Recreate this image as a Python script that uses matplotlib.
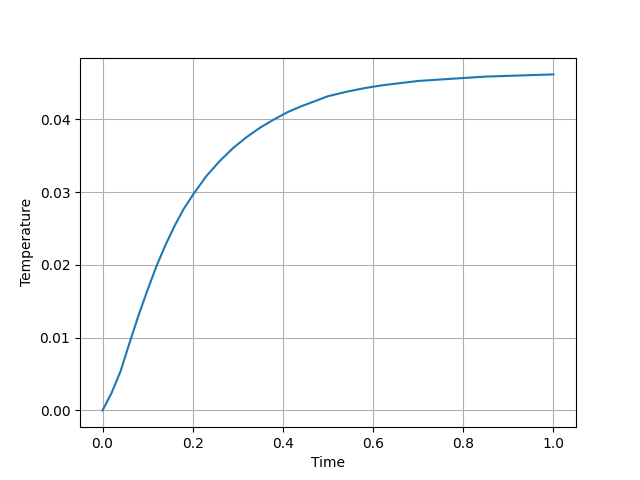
import matplotlib
matplotlib.use("Agg")
import matplotlib.pyplot as plt

# values
time = [0.00, 0.02, 0.04, 0.06, 0.08, 0.10, 0.12, 0.14, 0.16, 0.18, 0.20,
        0.23, 0.26, 0.29, 0.32, 0.35, 0.38, 0.41, 0.44, 0.47, 0.50,
        0.54, 0.58, 0.62, 0.66, 0.70, 0.75, 0.80, 0.85, 0.90, 0.95, 1.00]
temperature = [0.0, 0.0024, 0.0054, 0.0093, 0.0131, 0.0166, 0.0199, 0.0228,
               0.0254, 0.0277, 0.0296, 0.0322, 0.0343, 0.0361, 0.0376, 0.0389,
               0.0400, 0.0410, 0.0418, 0.0425, 0.0432, 0.0438, 0.0443, 0.0447,
               0.0450, 0.0453, 0.0455, 0.0457, 0.0459, 0.0460, 0.0461, 0.0462]

plt.figure(figsize=(6.4, 4.8), dpi=100)
plt.plot(time, temperature)
plt.xlabel('Time')
plt.ylabel('Temperature')
plt.grid(True)
plt.savefig('out.png')
